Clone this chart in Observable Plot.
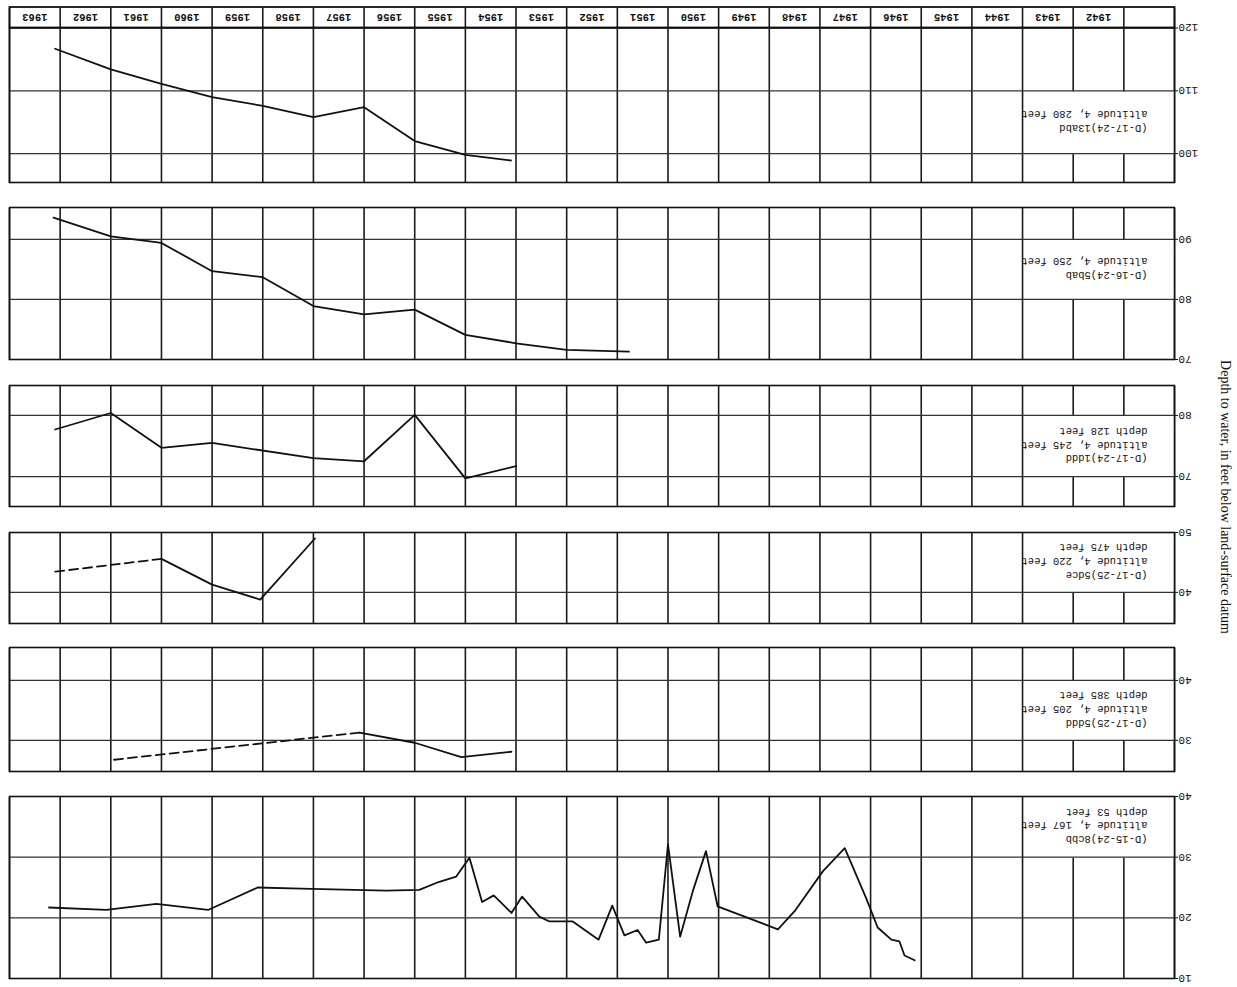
<!DOCTYPE html>
<html><head><meta charset="utf-8">
<script src="https://cdn.jsdelivr.net/npm/d3@7"></script>
<script src="https://cdn.jsdelivr.net/npm/@observablehq/plot@0.6"></script>
<style>
html,body{margin:0;padding:0;background:#fff;}
#page{position:relative;width:1237px;height:987px;transform:rotate(180deg);transform-origin:50% 50%;overflow:hidden;background:#fff;}
.panel{position:absolute;left:0;}
#ytitle{position:absolute;left:12px;top:490px;transform:translate(-50%,-50%) rotate(-90deg);white-space:nowrap;font-family:"Liberation Serif",serif;font-size:14px;color:#111;}
</style></head>
<body>
<div id="page"><div id="ytitle">Depth to water, in feet below land-surface datum</div></div>
<script>
// ---------- data ----------
const yearLabels = [1942,1943,1944,1945,1946,1947,1948,1949,1950,1951,1952,1953,1954,1955,1956,1957,1958,1959,1960,1961,1962,1963];

// (D-15-24)8cbb
const w6Label = "(D-15-24)8cbb\naltitude 4, 167 feet\ndepth 53 feet";
const w6Years = [1946.13,1946.33,1946.43,1946.59,1946.86,1947.09,1947.51,1947.94,1948.50,1948.83,1950.02,1950.25,1950.51,1950.76,1951.00,1951.18,1951.43,1951.60,1951.86,1952.10,1952.37,1952.88,1953.34,1953.54,1953.88,1954.09,1954.44,1954.67,1954.92,1955.18,1955.53,1955.91,1956.56,1958.24,1959.10,1960.08,1961.10,1962.09,1963.22];
const w6Depth = [13.0,13.8,16.1,16.4,18.4,23.3,31.5,27.7,21.1,18.1,21.9,31.0,24.4,16.9,32.1,16.4,15.9,18.0,17.1,22.0,16.4,19.4,19.4,20.2,23.5,20.8,23.7,22.6,29.9,26.8,25.9,24.6,24.5,24.8,25.0,21.3,22.3,21.3,21.7];
const w6Ticks = [10,20,30,40];

// (D-17-25)5ddd
const w5Label = "(D-17-25)5ddd\naltitude 4, 205 feet\ndepth 385 feet";
const w5Years = [1954.09,1955.08,1956.0,1957.09];
const w5Depth = [28.1,27.2,29.6,31.3];
const w5DashYears = [1957.09,1962.0];
const w5DashDepth = [31.3,26.7];
const w5Ticks = [30,40];

// (D-17-25)5dce
const w4Label = "(D-17-25)5dce\naltitude 4, 220 feet\ndepth 475 feet";
const w4Years = [1957.97,1959.05,1960.0,1961.0];
const w4Depth = [49.0,38.8,41.3,45.6];
const w4DashYears = [1961.0,1963.15];
const w4DashDepth = [45.6,43.4];
const w4Ticks = [40,50];

// (D-17-24)1ddd
const w3Label = "(D-17-24)1ddd\naltitude 4, 245 feet\ndepth 128 feet";
const w3Years = [1954.0,1955.0,1956.0,1957.0,1958.0,1960.0,1961.0,1962.0,1963.1];
const w3Depth = [71.7,69.7,80.1,72.5,73.0,75.5,74.7,80.4,77.7];
const w3Ticks = [70,80];

// (D-16-24)5bab
const w2Label = "(D-16-24)5bab\naltitude 4, 250 feet";
const w2Years = [1951.77,1953.0,1954.0,1955.0,1956.0,1957.0,1958.0,1959.0,1960.0,1961.0,1962.0,1963.13];
const w2Depth = [71.3,71.6,72.7,74.1,78.3,77.5,78.9,83.7,84.7,89.4,90.5,93.6];
const w2Ticks = [70,80,90];

// (D-17-24)13abd
const w1Label = "(D-17-24)13abd\naltitude 4, 280 feet";
const w1Years = [1954.1,1955.0,1956.0,1957.0,1958.0,1959.0,1960.0,1961.0,1962.0,1963.1];
const w1Depth = [98.9,99.8,102.0,107.4,105.8,107.6,109.0,111.1,113.4,116.7];
const w1Ticks = [100,110,120];

// ---------- drawing ----------
const gridYears = d3.range(1941, 1965);
const zip = (t, d) => t.map((v, i) => ({t: v, d: d[i]}));
const page = document.getElementById("page");
const MT = 3, MB = 3;
const INK = "#111";

function panel({top, bottom, domain, ticks, box, label, years, depth, dashYears, dashDepth}) {
  const h = bottom - top;
  const boxRect = [{x1: 1941, x2: 1944, y1: box[0], y2: box[1]}];
  const inner = ticks.filter(t => t > domain[0] + 0.5 && t < domain[1] - 0.5);
  const marks = [
    Plot.ruleX(gridYears, {stroke: "#1a1a1a", strokeWidth: 1.6}),
    Plot.rect(boxRect, {x1: "x1", x2: "x2", y1: "y1", y2: "y2", fill: "white", insetRight: 1.2}),
    Plot.ruleY(inner, {stroke: "#333", strokeWidth: 1.2}),
    Plot.frame({stroke: INK, strokeWidth: 1.6}),
    Plot.axisY({ticks, tickSize: 3, tickPadding: 1, tickFormat: d => String(d), fontSize: 11}),
    Plot.text([label], {x: () => 1941, y: () => (box[0] + box[1]) / 2, text: d => d, textAnchor: "start", dx: 27, lineAnchor: "middle", lineHeight: 1.3, fontSize: 10.5, fill: INK}),
    Plot.line(zip(years, depth), {x: "t", y: "d", stroke: INK, strokeWidth: 1.8})
  ];
  if (dashYears) marks.push(Plot.line(zip(dashYears, dashDepth), {x: "t", y: "d", stroke: INK, strokeWidth: 1.8, strokeDasharray: "9,5"}));
  const chart = Plot.plot({
    width: 1237, height: h + MT + MB,
    marginLeft: 62, marginRight: 10, marginTop: MT, marginBottom: MB,
    style: {fontFamily: "'Liberation Mono', monospace", fontSize: "11px", color: INK, background: "transparent", overflow: "visible"},
    x: {domain: [1941, 1964], axis: null},
    y: {domain, reverse: true, axis: null},
    marks
  });
  const div = document.createElement("div");
  div.className = "panel";
  div.style.top = (top - MT) + "px";
  div.appendChild(chart);
  page.appendChild(div);
}

panel({top: 8, bottom: 190, domain: [10, 40], ticks: w6Ticks, box: [30, 40], label: w6Label, years: w6Years, depth: w6Depth});
panel({top: 215, bottom: 339, domain: [24.8, 45.5], ticks: w5Ticks, box: [30, 40], label: w5Label, years: w5Years, depth: w5Depth, dashYears: w5DashYears, dashDepth: w5DashDepth});
panel({top: 363, bottom: 454, domain: [34.8, 50], ticks: w4Ticks, box: [40, 50], label: w4Label, years: w4Years, depth: w4Depth, dashYears: w4DashYears, dashDepth: w4DashDepth});
panel({top: 480, bottom: 601, domain: [65.1, 84.9], ticks: w3Ticks, box: [70, 80], label: w3Label, years: w3Years, depth: w3Depth});
panel({top: 627, bottom: 779, domain: [70, 95.3], ticks: w2Ticks, box: [80, 90], label: w2Label, years: w2Years, depth: w2Depth});
panel({top: 804, bottom: 958.5, domain: [95.4, 120], ticks: w1Ticks, box: [100, 110], label: w1Label, years: w1Years, depth: w1Depth});

// year label row
{
  const top = 958.5, bottom = 979;
  const chart = Plot.plot({
    width: 1237, height: (bottom - top) + MT + MB,
    marginLeft: 62, marginRight: 10, marginTop: MT, marginBottom: MB,
    style: {fontFamily: "'Liberation Mono', monospace", fontSize: "11px", color: INK, background: "transparent", overflow: "visible"},
    x: {domain: [1941, 1964], axis: null},
    y: {domain: [0, 1], axis: null},
    marks: [
      Plot.ruleX(gridYears, {stroke: "#1a1a1a", strokeWidth: 1.6}),
      Plot.frame({stroke: INK, strokeWidth: 1.8}),
      Plot.text(yearLabels, {x: d => d + 0.5, y: () => 0.5, text: d => String(d), fontWeight: "bold", fontSize: 10.5, fill: INK})
    ]
  });
  const div = document.createElement("div");
  div.className = "panel";
  div.style.top = (top - MT) + "px";
  div.appendChild(chart);
  page.appendChild(div);
}
</script>
</body></html>
